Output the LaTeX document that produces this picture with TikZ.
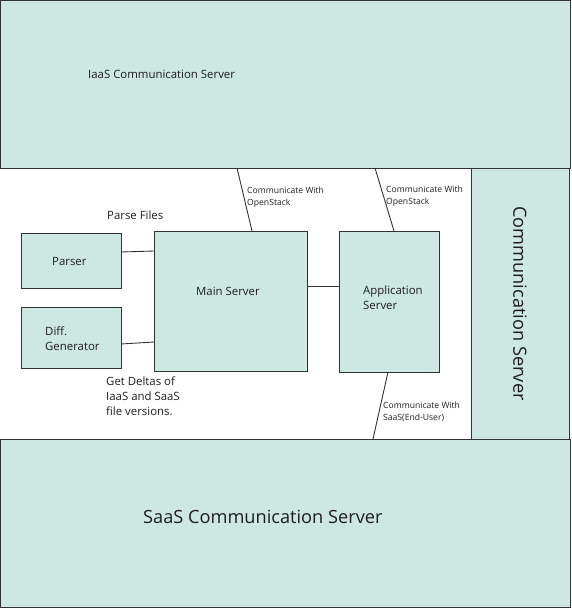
\documentclass[tikz,border=0pt]{standalone}
\usepackage{fontspec}
\setmainfont{Open Sans}
\usetikzlibrary{calc}
\definecolor{boxc}{RGB}{205,231,226}
\definecolor{linec}{RGB}{51,51,51}
\definecolor{txtc}{RGB}{30,30,30}
\tikzset{
  box/.style={draw=linec, fill=boxc, line width=0.9pt, inner sep=0pt, outer sep=0pt, anchor=north west},
  conn/.style={draw=linec, line width=0.9pt},
  lbl/.style={text=txtc, inner sep=0pt, anchor=west, align=left},
  small/.style={lbl, font=\fontsize{8.6}{12}\selectfont},
  mid/.style={lbl, font=\fontsize{11.4}{15}\selectfont},
  big/.style={text=txtc, inner sep=0pt, font=\fontsize{18.2}{21}\selectfont}
}
\begin{document}
\begin{tikzpicture}[x=1pt,y=-1pt]
\useasboundingbox (0,0) rectangle (571,608);
% boxes
\node[box, minimum width=569.5pt, minimum height=167.5pt] (iaas) at (0.5,0.5) {};
\node[box, minimum width=98pt, minimum height=271pt] (comm) at (471,168) {};
\node[box, minimum width=569.5pt, minimum height=168pt] (saas) at (0.5,439) {};
\node[box, minimum width=100pt, minimum height=55pt] (parser) at (21,233) {};
\node[box, minimum width=100pt, minimum height=61pt] (diff) at (21,307) {};
\node[box, minimum width=153pt, minimum height=140pt] (main) at (154,231) {};
\node[box, minimum width=100pt, minimum height=141pt] (app) at (339,231) {};
% box texts
\node[lbl, font=\fontsize{11.4}{13}\selectfont] (iaast) at (88,74) {IaaS Communication Server};
\node[big, anchor=west] (saast) at (143,517) {SaaS Communication Server};
\node[big, rotate=-90] (commt) at (comm.center) {Communication Server};
\node[mid] (parsert) at (52,261) {Parser};
\node[mid] (difft) at (45,339) {Diff.\\Generator};
\node[mid] (maint) at (196,291) {Main Server};
\node[mid] (appt) at (363,297.5) {Application\\Server};
% connectors
\draw[conn] ($(parser.north east)+(0,19)$) -- ($(main.north west)+(0,20)$);
\draw[conn] ($(diff.north east)+(0,37)$) -- ($(main.north west)+(0,111)$);
\draw[conn] ($(main.north east)+(0,55)$) -- ($(app.north west)+(0,55)$);
\draw[conn] ($(iaas.south west)+(236.5,0)$) -- ($(main.north west)+(98,0)$);
\draw[conn] ($(iaas.south west)+(374.5,0)$) -- ($(app.north west)+(55,0)$);
\draw[conn] ($(app.south west)+(49,0)$) -- ($(saas.north west)+(372.5,0)$);
% labels
\node[mid] (parsef) at (107,215) {Parse Files};
\node[mid] (deltas) at (106,396) {Get Deltas of\\IaaS and SaaS\\file versions.};
\node[small] (os1) at (247,197) {Communicate With\\OpenStack};
\node[small] (os2) at (386,196.5) {Communicate With\\OpenStack};
\node[small] (eu) at (383,412) {Communicate With\\SaaS(End-User)};
\end{tikzpicture}
\end{document}
